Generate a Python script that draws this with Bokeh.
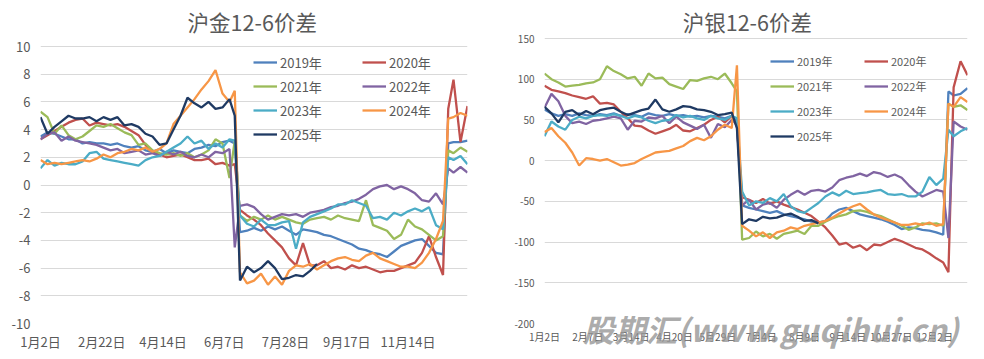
from bokeh.plotting import figure
from bokeh.models import Legend, LegendItem, FixedTicker, Range1d, Div, Label
from bokeh.layouts import row, column
from bokeh.embed import file_html
from bokeh.resources import INLINE

# ---------------- data ----------------
# trading-day index of each sampled point (same sampling for every series)
X = [0, 4, 8, 12, 16, 20, 24, 28, 32, 36, 40, 44, 48, 52, 56, 60, 64, 68, 72, 76,
     80, 84, 88, 92, 96, 100, 104, 108, 111,
     114, 118, 122, 126, 130, 134, 138, 142, 146, 150, 154, 158, 162, 166, 170, 174,
     178, 182, 186, 190, 194, 198, 202, 206, 210, 214, 218, 222, 226, 230,
     233, 236, 240, 244]

SERIES_NAMES = ["2019年", "2020年", "2021年", "2022年", "2023年", "2024年", "2025年"]

GOLD_TITLE = "沪金12-6价差"
GOLD_TICK_IDX = [0, 35, 70, 105, 140, 175, 210]
GOLD_TICK_LABELS = ["1月2日", "2月22日", "4月14日", "6月7日", "7月28日", "9月17日", "11月14日"]
GOLD_Y_TICKS = [-10, -8, -6, -4, -2, 0, 2, 4, 6, 8, 10]

SILVER_TITLE = "沪银12-6价差"
SILVER_TICK_IDX = [0, 25, 50, 75, 100, 125, 150, 175, 200, 225]
SILVER_TICK_LABELS = ["1月2日", "2月7日", "3月14日", "4月20日", "5月29日", "7月4日",
                      "8月9日", "9月14日", "10月27日", "12月2日"]
SILVER_Y_TICKS = [-200, -150, -100, -50, 0, 50, 100, 150]

WATERMARK = "股期汇(www.guqihui.cn)"

# 沪金12-6价差
gold_2019 = [3.5, 3.8, 3.7, 3.5, 3.3, 3.3, 3.0, 3.1, 3.0, 3.0, 2.9, 3.0, 2.8, 2.7, 2.8, 2.5, 2.4, 2.6, 2.3, 2.5,
             2.4, 2.3, 2.6, 2.7, 2.9, 2.8, 3.1, 3.2, 3.0,
             -3.4, -3.3, -3.1, -3.3, -3.0, -3.2, -3.0, -3.3, -3.6, -3.2, -3.3, -3.4, -3.6, -3.7, -3.9, -4.1,
             -4.3, -4.6, -4.7, -4.9, -5.0, -5.2, -4.8, -4.4, -4.2, -4.0, -3.9, -4.4, -4.9, -5.0,
             3.0, 3.1, 3.1, 3.2]
gold_2020 = [3.3, 3.6, 3.9, 4.2, 4.5, 4.7, 4.8, 4.3, 4.5, 4.4, 4.3, 4.4, 4.2, 3.9, 3.6, 2.9, 2.4, 2.2, 2.0, 2.1,
             2.2, 2.0, 1.8, 1.8, 1.9, 1.5, 1.6, 1.4, 1.5,
             -1.8, -2.2, -2.5, -2.9, -3.5, -4.0, -4.5, -5.3, -5.8, -4.2, -5.8, -5.8, -5.5, -6.0, -5.9, -6.1,
             -5.8, -6.0, -5.9, -6.1, -6.3, -6.2, -6.2, -6.0, -5.8, -5.6, -4.9, -3.7, -5.2, -6.5,
             5.5, 7.6, 3.1, 5.7]
gold_2021 = [5.3, 4.9, 3.7, 4.3, 3.6, 3.3, 3.5, 3.9, 4.3, 4.2, 4.4, 4.1, 3.8, 3.6, 2.9, 3.0, 2.5, 2.3, 2.2, 2.3,
             2.1, 2.3, 2.0, 2.2, 2.5, 3.3, 3.0, 0.5, 3.2,
             -2.2, -2.6, -2.3, -2.5, -2.2, -2.5, -2.3, -2.5, -2.7, -2.8, -2.5, -2.4, -2.3, -2.5, -2.2, -2.4,
             -2.5, -2.6, -1.1, -2.9, -3.1, -3.3, -3.9, -3.6, -2.5, -3.0, -3.2, -3.6, -4.0, -3.7,
             2.5, 2.3, 2.7, 2.4]
gold_2022 = [3.3, 3.7, 3.8, 3.2, 3.5, 3.2, 3.1, 3.0, 2.9, 2.7, 2.5, 2.6, 2.3, 2.4, 2.5, 2.2, 2.3, 2.1, 2.4, 2.2,
             2.4, 2.1, 2.0, 2.2, 2.0, 2.4, 2.3, 2.6, -4.5,
             -1.5, -1.4, -1.6, -2.1, -2.5, -2.3, -2.1, -2.2, -2.1, -2.3, -2.0, -1.9, -1.8, -1.6, -1.5, -1.3,
             -1.2, -1.0, -0.7, -0.3, -0.1, 0.0, -0.3, -0.1, -0.3, -0.6, -1.1, -1.2, -0.6, -1.4,
             1.2, 0.9, 1.3, 0.9]
gold_2023 = [1.2, 1.8, 1.4, 1.6, 1.5, 1.5, 1.7, 2.3, 2.4, 1.9, 1.8, 1.7, 1.6, 1.5, 1.4, 1.8, 2.0, 2.1, 2.4, 2.7,
             3.0, 3.5, 3.0, 3.2, 2.6, 3.0, 2.7, 3.3, 3.2,
             -2.2, -2.8, -3.0, -2.5, -2.9, -2.9, -2.7, -2.6, -4.6, -2.7, -2.3, -2.1, -1.9, -1.7, -1.4, -1.4,
             -1.1, -1.3, -1.5, -2.4, -2.3, -2.5, -2.0, -2.2, -1.9, -1.7, -1.9, -1.6, -2.9, -3.2,
             2.0, 1.8, 2.1, 1.5]
gold_2024 = [1.8, 1.5, 1.6, 1.5, 1.6, 1.7, 1.8, 1.7, 1.9, 2.2, 2.0, 2.3, 2.4, 2.6, 2.5, 2.7, 2.4, 2.6, 3.0, 4.4,
             5.0, 5.6, 6.2, 6.9, 7.5, 8.3, 6.6, 6.0, 6.8,
             -6.3, -7.1, -6.9, -6.4, -7.2, -6.6, -7.2, -6.2, -5.8, -5.9, -5.7, -6.1, -5.8, -5.5, -5.3, -5.2,
             -5.4, -5.5, -5.1, -4.9, -5.3, -5.5, -5.7, -5.9, -5.9, -6.0, -5.6, -4.9, -3.9, -2.6,
             4.8, 4.9, 5.2, 5.0]
gold_2025 = [4.9, 3.7, 4.2, 4.6, 5.0, 4.8, 4.8, 4.9, 4.6, 4.9, 4.7, 4.9, 4.3, 4.4, 4.2, 3.7, 3.5, 2.9, 3.0, 4.0,
             5.0, 6.3, 5.9, 5.6, 6.0, 5.5, 5.6, 6.2, 5.0,
             -6.9, -5.9, -6.3, -6.0, -5.5, -6.0, -6.8, -6.7, -6.5, -6.6, -6.2, -5.7]

# 沪银12-6价差
silver_2019 = [63, 58, 55, 57, 55, 58, 56, 55, 57, 56, 58, 55, 57, 56, 54, 58, 56, 55, 57, 55,
               56, 54, 55, 53, 55, 54, 52, 55, 48,
               -55, -58, -60, -62, -64, -62, -66, -68, -70, -72, -75, -76, -74, -65, -60, -58,
               -62, -66, -68, -70, -72, -75, -79, -84, -82, -83, -85, -86, -88, -91,
               85, 80, 82, 89]
silver_2020 = [92, 87, 85, 83, 80, 78, 76, 79, 70, 71, 69, 60, 52, 43, 42, 37, 33, 36, 39, 44,
               37, 36, 40, 44, 50, 54, 47, 55, 42,
               -45, -48, -52, -47, -53, -50, -54, -57, -60, -64, -68, -75, -82, -92, -103, -101,
               -107, -104, -110, -103, -104, -100, -96, -99, -103, -107, -109, -114, -120, -125,
               -137, 90, 122, 105]
silver_2021 = [107, 100, 96, 91, 92, 93, 95, 96, 100, 116, 110, 106, 101, 103, 92, 107, 101, 102, 94, 91,
               88, 99, 98, 101, 103, 100, 107, 95, 85,
               -97, -95, -87, -93, -90, -96, -90, -88, -86, -90, -80, -80, -75, -71, -68, -66,
               -62, -61, -63, -66, -68, -72, -76, -80, -85, -82, -77, -78, -77, -80,
               70, 66, 68, 62]
silver_2022 = [65, 82, 73, 55, 46, 48, 45, 49, 50, 52, 54, 52, 38, 49, 48, 53, 52, 55, 46, 54,
               47, 43, 39, 44, 28, 45, 41, 50, 45,
               -55, -48, -60, -54, -52, -58, -48, -42, -37, -42, -37, -36, -38, -33, -24, -21,
               -19, -16, -19, -14, -16, -20, -17, -21, -30, -38, -44, -40, -36, -38,
               -95, 48, 42, 38]
silver_2023 = [30, 48, 42, 38, 50, 54, 52, 55, 56, 55, 57, 55, 52, 55, 53, 49, 46, 49, 50, 56,
               53, 55, 52, 50, 55, 52, 50, 55, 52,
               -38, -55, -50, -52, -46, -50, -41, -56, -62, -64, -58, -52, -44, -39, -43, -37,
               -41, -40, -39, -37, -36, -41, -42, -41, -44, -44, -38, -20, -30, -22,
               38, 30, 36, 40]
silver_2024 = [35, 40, 30, 22, 10, -6, 3, 2, 0, 2, -2, -6, -5, -3, 2, 6, 10, 11, 12, 15,
               18, 24, 28, 25, 30, 38, 44, 40, 117,
               -80, -86, -93, -88, -95, -88, -86, -82, -84, -80, -78, -76, -74, -70, -65, -60,
               -56, -53, -60, -66, -70, -73, -76, -79, -79, -77, -79, -76, -80, -78,
               70, 66, 78, 72]
silver_2025 = [66, 58, 47, 60, 62, 56, 61, 57, 62, 64, 65, 60, 56, 59, 62, 64, 75, 63, 60, 63,
               67, 66, 63, 62, 60, 56, 57, 59, 40,
               -78, -72, -74, -69, -71, -70, -67, -65, -69, -74, -73, -77]

COLORS = ["#4F81BD", "#C0504D", "#9BBB59", "#8064A2", "#4BACC6", "#F79646", "#1F3A63"]

FONT = "Noto Sans CJK SC"
TEXT = "#595959"
GRID = "#D9D9D9"

FRAME_TOP = 8      # px from top of each figure to the top of its plot area
FRAME_BOTTOM = 323  # px from top of each figure to the bottom of its plot area
FIG_H = 355


def make_chart(title, series, x_ticks, x_labels, y_ticks, y_lo, y_hi, y_hi_px, width,
               border_lr, font_px, legend_cfg, title_pos, x_standoff):
    # extend the y range upward so that the top tick sits y_hi_px below the figure top
    ppu = (FRAME_BOTTOM - y_hi_px) / (y_hi - y_lo)
    y_top = y_hi + (y_hi_px - FRAME_TOP) / ppu
    bl, br = border_lr
    p = figure(width=width, height=FIG_H, output_backend="svg", toolbar_location=None,
               x_range=Range1d(0, 244), y_range=Range1d(y_lo, y_top),
               min_border_left=bl, min_border_right=br, min_border_top=FRAME_TOP,
               min_border_bottom=FIG_H - FRAME_BOTTOM)
    p.outline_line_color = None
    p.background_fill_color = "white"
    p.border_fill_color = "white"

    p.xaxis.ticker = FixedTicker(ticks=x_ticks)
    p.xaxis.major_label_overrides = {t: lab for t, lab in zip(x_ticks, x_labels)}
    p.yaxis.ticker = FixedTicker(ticks=y_ticks)
    p.yaxis.major_label_overrides = {t: str(t) for t in y_ticks}
    for ax in (p.xaxis[0], p.yaxis[0]):
        ax.axis_line_color = None
        ax.major_tick_line_color = None
        ax.minor_tick_line_color = None
        ax.major_tick_out = 0
        ax.major_tick_in = 0
        ax.major_label_text_font = FONT
        ax.major_label_text_font_size = f"{font_px}px"
        ax.major_label_text_color = TEXT
    p.xaxis.major_label_standoff = x_standoff
    p.yaxis.major_label_standoff = 10
    p.xgrid.visible = False
    p.ygrid.grid_line_color = GRID
    p.ygrid.grid_line_width = 1

    renderers = []
    for vals, col in zip(series, COLORS):
        r = p.line(X[:len(vals)], vals, line_color=col, line_width=2.3)
        renderers.append(r)

    items = [LegendItem(label=n, renderers=[r]) for n, r in zip(SERIES_NAMES, renderers)]
    leg = Legend(items=items, location=legend_cfg["loc"], orientation="horizontal", ncols=2,
                 glyph_width=24, glyph_height=legend_cfg["h"], label_height=legend_cfg["h"],
                 label_width=legend_cfg["lw"], label_standoff=3, spacing=legend_cfg["sp"],
                 padding=0, margin=0, border_line_alpha=0, background_fill_alpha=0,
                 label_text_font=FONT, label_text_font_size=legend_cfg["fs"],
                 label_text_color=TEXT)
    p.add_layout(leg)

    # chart title, centred over the chart near the top of the figure
    tx, ty_px = title_pos
    ty = y_hi + (y_hi_px - ty_px) / ppu
    p.add_layout(Label(x=tx, y=ty, text=title, text_font=FONT, text_font_size="21.5px",
                       text_color=TEXT, text_align="center", text_baseline="middle"))
    return p


p1 = make_chart(GOLD_TITLE,
                [gold_2019, gold_2020, gold_2021, gold_2022, gold_2023, gold_2024, gold_2025],
                GOLD_TICK_IDX, GOLD_TICK_LABELS, GOLD_Y_TICKS, -10, 10, 46,
                490, (40, 23), 13,
                {"loc": (213, 179), "h": 20, "lw": 78, "sp": 4, "fs": "13px"},
                (121, 21), 8)

p2 = make_chart(SILVER_TITLE,
                [silver_2019, silver_2020, silver_2021, silver_2022, silver_2023, silver_2024, silver_2025],
                SILVER_TICK_IDX, SILVER_TICK_LABELS, SILVER_Y_TICKS, -200, 150, 38,
                490, (54, 13), 10,
                {"loc": (226, 176), "h": 22, "lw": 64, "sp": 3, "fs": "11px"},
                (117, 21), 5)

wm = Div(text=WATERMARK, margin=(-43, 0, 0, 583),
         styles={"font-family": FONT, "font-size": "31px", "font-weight": "bold",
                 "font-style": "italic", "color": "rgba(150,150,150,0.8)",
                 "letter-spacing": "0.5px",
                 "white-space": "nowrap", "line-height": "34px"})

layout = column(row(p1, p2, spacing=0), wm, spacing=0)
open("out.html", "w").write(file_html(layout, INLINE))
